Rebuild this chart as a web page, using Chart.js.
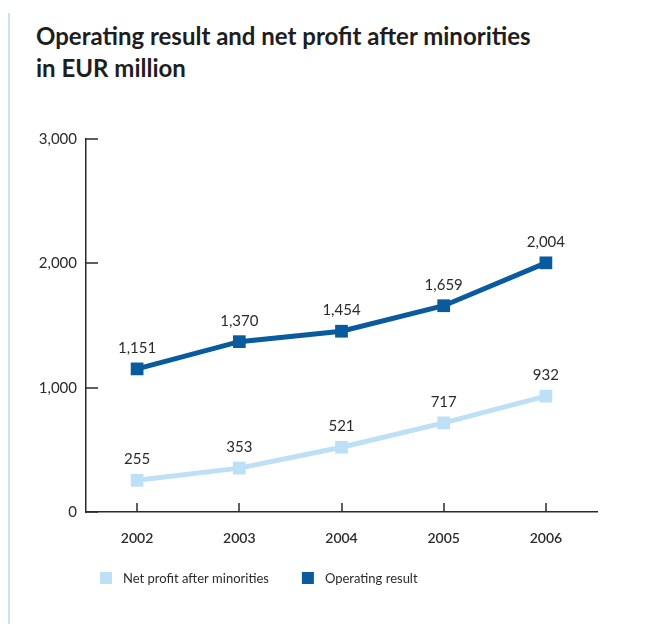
<!DOCTYPE html>
<html>
<head>
<meta charset="utf-8">
<script src="https://cdn.jsdelivr.net/npm/chart.js@4.4.1/dist/chart.umd.min.js"></script>
<style>
  html, body { margin: 0; padding: 0; background: #fff; }
  #wrap { position: relative; width: 648px; height: 624px; overflow: hidden; }
  #rule { position: absolute; left: 8px; top: 13px; width: 2px; height: 611px; background: #c6e3f6; }
  h1 { position: absolute; left: 36px; top: 20px; margin: 0; font: bold 24px/32px Lato, sans-serif; color: #1e1e1e; }
  canvas { position: absolute; left: 0; top: 0; }
</style>
</head>
<body>
<div id="wrap">
  <div id="rule"></div>
  <h1>Operating result and net profit after minorities<br>in EUR million</h1>
  <canvas id="chart" width="648" height="624"></canvas>
</div>
<script>
const years = ['2002', '2003', '2004', '2005', '2006'];
const netProfitAfterMinorities = [255, 353, 521, 717, 932];
const operatingResult = [1151, 1370, 1454, 1659, 2004];
const yTickValues = [0, 1000, 2000, 3000];

const DARK = '#0a5a9e';
const LIGHT = '#bde0f7';
const INK = '#2b2b2b';
const FONT = 'Lato, sans-serif';

const fmt = v => v.toLocaleString('en-US');

// Short tick marks pointing into the plot area
const innerTicks = {
  id: 'innerTicks',
  afterDraw(chart) {
    const { ctx, scales: { x, y }, chartArea } = chart;
    ctx.save();
    ctx.strokeStyle = INK;
    ctx.lineWidth = 1.5;
    ctx.beginPath();
    yTickValues.forEach(v => {
      const py = Math.round(y.getPixelForValue(v));
      ctx.moveTo(chartArea.left, py);
      ctx.lineTo(chartArea.left + 12, py);
    });
    years.forEach((_, i) => {
      const px = Math.round(x.getPixelForValue(i));
      ctx.moveTo(px, chartArea.bottom);
      ctx.lineTo(px, chartArea.bottom - 9);
    });
    ctx.stroke();
    ctx.restore();
  }
};

// Value labels above each point
const valueLabels = {
  id: 'valueLabels',
  afterDatasetsDraw(chart) {
    const { ctx } = chart;
    ctx.save();
    ctx.font = '15px ' + FONT;
    ctx.fillStyle = INK;
    ctx.textAlign = 'center';
    ctx.textBaseline = 'middle';
    chart.data.datasets.forEach((ds, di) => {
      chart.getDatasetMeta(di).data.forEach((pt, i) => {
        ctx.fillText(fmt(ds.data[i]), pt.x, pt.y - 21);
      });
    });
    ctx.restore();
  }
};

// Legend row under the axis
const bottomLegend = {
  id: 'bottomLegend',
  afterDraw(chart) {
    const { ctx } = chart;
    const y = 578, box = 12, gap = 11, spacing = 33;
    let x = 100;
    ctx.save();
    ctx.font = '13px ' + FONT;
    ctx.textBaseline = 'middle';
    chart.data.datasets.forEach(ds => {
      ctx.fillStyle = ds.borderColor;
      ctx.fillRect(x, y - box / 2, box, box);
      ctx.fillStyle = INK;
      ctx.fillText(ds.label, x + box + gap, y + 1);
      x += box + gap + ctx.measureText(ds.label).width + spacing;
    });
    ctx.restore();
  }
};

new Chart(document.getElementById('chart'), {
  type: 'line',
  data: {
    labels: years,
    datasets: [
      {
        label: 'Net profit after minorities',
        data: netProfitAfterMinorities,
        borderColor: LIGHT,
        backgroundColor: LIGHT,
        borderWidth: 5,
        pointStyle: 'rect',
        pointRadius: 9,
        pointBorderWidth: 0,
        tension: 0
      },
      {
        label: 'Operating result',
        data: operatingResult,
        borderColor: DARK,
        backgroundColor: DARK,
        borderWidth: 5,
        pointStyle: 'rect',
        pointRadius: 9,
        pointBorderWidth: 0,
        tension: 0
      }
    ]
  },
  options: {
    responsive: false,
    animation: false,
    devicePixelRatio: 1,
    layout: { padding: { left: 0, right: 51, top: 139, bottom: 62 } },
    plugins: { legend: { display: false }, tooltip: { enabled: false } },
    scales: {
      x: {
        offset: true,
        grid: { display: false, drawTicks: false },
        border: { display: true, color: INK, width: 1.5 },
        ticks: { color: INK, font: { family: FONT, size: 14, weight: '600' }, padding: 18 },
        afterFit(scale) { scale.height = 50; }
      },
      y: {
        min: 0,
        max: 3000,
        afterBuildTicks(scale) { scale.ticks = yTickValues.map(v => ({ value: v })); },
        grid: { display: false, drawTicks: false },
        border: { display: true, color: INK, width: 1.5 },
        ticks: { color: INK, font: { family: FONT, size: 15 }, padding: 9, callback: v => fmt(v) },
        afterFit(scale) { scale.width = 86; }
      }
    }
  },
  plugins: [innerTicks, valueLabels, bottomLegend]
});
</script>
</body>
</html>
